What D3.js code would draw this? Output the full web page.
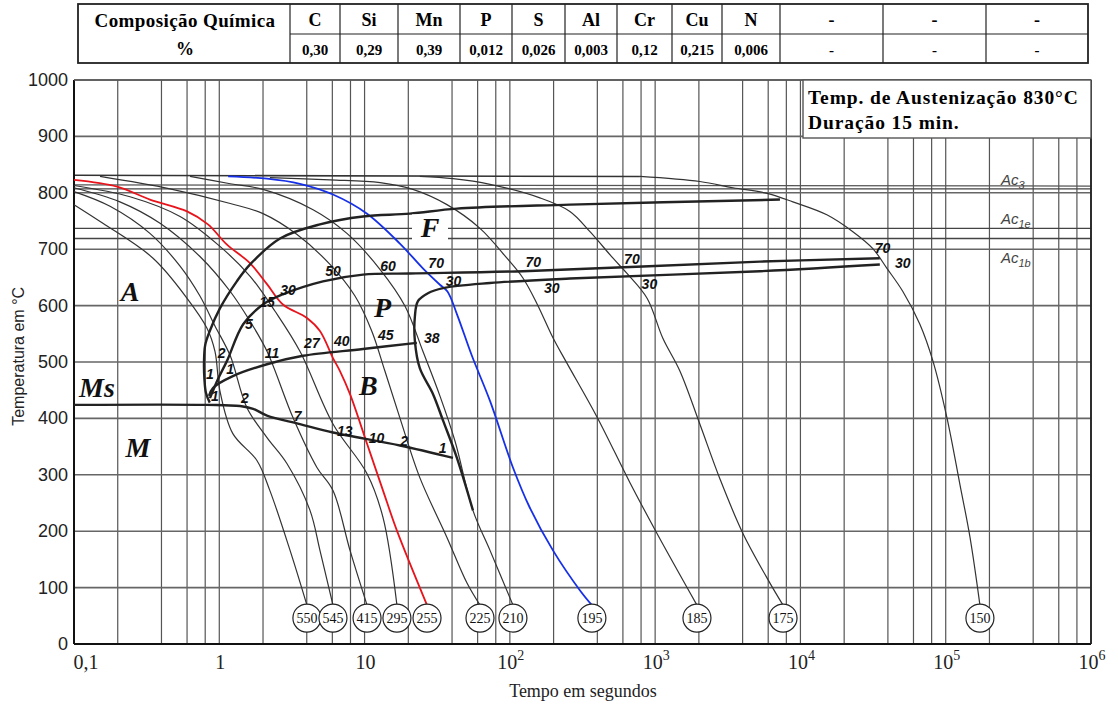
<!DOCTYPE html>
<html>
<head>
<meta charset="utf-8">
<script src="https://cdn.jsdelivr.net/npm/d3@7"></script>
<style>
  body { margin: 0; background: #fff; }
  svg { display: block; }
</style>
</head>
<body>
<script>
/* Dados */

const elements = ['C', 'Si', 'Mn', 'P', 'S', 'Al', 'Cr', 'Cu', 'N', '-', '-', '-'];
const contents = ['0,30', '0,29', '0,39', '0,012', '0,026', '0,003', '0,12', '0,215', '0,006', '-', '-', '-'];

const tempTicks = [0, 100, 200, 300, 400, 500, 600, 700, 800, 900, 1000];
const timeTicks = [0.1, 1, 10, 1e2, 1e3, 1e4, 1e5, 1e6];

// curvas de resfriamento [tempo s, temperatura °C]
const curve550 = [[0.1, 779], [0.158, 746], [0.35, 684], [0.6, 613], [0.823, 560], [0.934, 519], [1.01, 449], [1.24, 373], [1.82, 325], [2.23, 272], [3.07, 166], [4.01, 69]];
const curve545 = [[0.1, 802], [0.177, 776], [0.333, 728], [0.537, 670], [0.736, 617], [0.934, 564], [1.19, 511], [1.55, 419], [2.13, 366], [2.92, 320], [4.21, 237], [4.93, 166], [6.06, 69]];
const curve415 = [[0.1, 809], [0.207, 784], [0.391, 746], [0.736, 687], [1.19, 625], [1.63, 572], [2.13, 519], [3.22, 401], [4.7, 313], [6.06, 272], [7.94, 166], [10.4, 69]];
const curve295 = [[0.1, 813], [0.243, 793], [0.537, 758], [1.01, 705], [1.63, 652], [2.42, 590], [3.59, 519], [6.06, 390], [10.4, 302], [13.4, 224], [16.7, 69]];
const curve255 = [[0.1, 823], [0.198, 811], [0.333, 788], [0.6, 767], [0.836, 744], [1.13, 708], [1.63, 675], [2.13, 638], [2.74, 602], [4.01, 578], [4.93, 555], [6.06, 507], [6.77, 484], [7.94, 443], [10.4, 355], [13.4, 272], [16.7, 201], [26.9, 69]];
const curve225 = [[0.151, 829], [0.458, 807], [1.19, 781], [2.0, 763], [3.43, 726], [5.78, 673], [8.59, 617], [11.2, 555], [13.8, 484], [17.5, 401], [24.0, 295], [36.9, 189], [50.7, 108], [62.3, 69]];
const curve210 = [[0.629, 829], [1.19, 816], [2.0, 806], [4.42, 770], [7.56, 728], [12.8, 664], [19.0, 599], [25.2, 519], [33.0, 440], [41.9, 360], [55.7, 237], [73.0, 166], [105, 69]];
const curve195 = [[1.15, 829], [2.13, 825], [3.59, 816], [6.06, 797], [10.4, 763], [17.5, 710], [25.2, 666], [33.0, 637], [37.2, 625], [43.2, 585], [54.8, 511], [73.0, 431], [105, 313], [137, 242], [198, 166], [304, 95], [367, 69]];
const curve185 = [[2.23, 827], [5.78, 823], [12.8, 818], [21.5, 806], [36.9, 779], [62.3, 737], [95.5, 684], [123, 649], [154, 603], [198, 543], [247, 498], [397, 403], [671, 286], [1030, 196], [1940, 69]];
const curve175 = [[24.0, 829], [40.6, 825], [73, 815], [161, 791], [259, 767], [356, 731], [513, 684], [640, 657], [880, 613], [1130, 542], [1480, 484], [2030, 390], [2790, 293], [4020, 196], [6170, 108], [7590, 69]];
const curve150 = [[786, 829], [2030, 820], [3430, 809], [5880, 799], [8870, 784], [15200, 761], [22960, 731], [31500, 701], [39400, 666], [50700, 625], [66400, 567], [81600, 502], [102000, 401], [125000, 284], [147000, 189], [172000, 69]];

const hardness = [550, 545, 415, 295, 255, 225, 210, 195, 185, 175, 150];
const coolingCurves = [curve550, curve545, curve415, curve295, curve255, curve225, curve210, curve195, curve185, curve175, curve150];
const curveColors = ['#333', '#333', '#333', '#333', '#e8141c', '#333', '#333', '#1630e8', '#333', '#333', '#333'];

// linhas de transformação
const ferriteStart = [[0.86, 428], [0.81, 445], [0.79, 470], [0.785, 500], [0.8, 530], [0.86, 555], [1.01, 595], [1.32, 643], [1.63, 673], [2.62, 719], [4.93, 744], [9.75, 758], [20.5, 763], [43.2, 772], [259, 779], [7230, 788]];
const pearliteStart = [[0.863, 436], [0.98, 470], [1.13, 502], [1.46, 567], [2.0, 602], [2.74, 620], [5.17, 643], [9.75, 655], [20.5, 657], [123, 661], [5260, 678], [35200, 684]];
const pearliteFinish = [[55.7, 237], [43.2, 330], [34.7, 396], [29.6, 443], [24.0, 489], [22.2, 537], [22.2, 581], [23.3, 608], [27.3, 622], [34.7, 631], [73, 640], [259, 648], [5260, 661], [35200, 673]];
const bainiteStart = [[0.85, 440], [0.905, 454], [1.24, 475], [2.13, 496], [3.77, 511], [9.75, 523], [22.9, 534]];
const msLine = [[0.1, 424], [0.82, 424], [1.39, 422], [1.71, 417], [2.13, 405], [3.59, 390], [6.06, 375], [17.5, 352], [40.6, 330]];

// linhas de referência
const austenLine = [[0.1, 831], [786, 829]];
const acNames = ['3', '1e', '1b'];
const acTemps = [807, 737, 719];
const acLabelTemps = [822, 754, 684];
const extraLine = [[0.1, 814], [1e6, 812]];

// percentuais transformados [texto, tempo, temperatura]
const percents = [
  ['1', 0.863, 479], ['1', 1.19, 488], ['1', 0.934, 440], ['2', 1.04, 516], ['2', 1.5, 436],
  ['5', 1.6, 567], ['15', 2.13, 606], ['30', 2.97, 627], ['50', 6.06, 661], ['60', 14.5, 670],
  ['70', 31.1, 675], ['30', 41.0, 643], ['70', 145, 678], ['30', 194, 631], ['70', 692, 682],
  ['30', 913, 638], ['70', 36700, 703], ['30', 50700, 675],
  ['11', 2.31, 516], ['27', 4.34, 534], ['40', 6.96, 537], ['45', 14.0, 548], ['38', 29.0, 542],
  ['7', 3.46, 405], ['13', 7.3, 378], ['10', 12.1, 366], ['2', 18.7, 360], ['1', 34.5, 348]
];

// regiões
const regions = [['A', 0.243, 625], ['F', 28.2, 737], ['P', 13.3, 595], ['B', 10.6, 458], ['Ms', 0.144, 454], ['M', 0.275, 348]];

/* Desenho */

const width = 1118, height = 706;
const svg = d3.select('body').append('svg')
    .attr('width', width)
    .attr('height', height)
    .style('font-family', 'Liberation Serif, serif');

svg.append('rect').attr('width', width).attr('height', height).attr('fill', '#fff');

const x = d3.scaleLog().domain([0.1, 1e6]).range([74, 1091]);
const y = d3.scaleLinear().domain([0, 1000]).range([644, 80]);

const line = d3.line()
    .x(d => x(d[0]))
    .y(d => y(d[1]))
    .curve(d3.curveCatmullRom.alpha(0.5));

/* Tabela de composição */

const table = svg.append('g');
const colEdges = [290, 340, 398, 460, 512, 565, 617, 672, 722, 780, 883, 986, 1088];
const tTop = 4, tMid = 34, tBot = 63;

table.append('rect')
    .attr('x', 78).attr('y', tTop)
    .attr('width', 1088 - 78).attr('height', tBot - tTop)
    .attr('fill', 'none').attr('stroke', '#222').attr('stroke-width', 1.8);

table.append('line')
    .attr('x1', colEdges[0]).attr('x2', 1088)
    .attr('y1', tMid).attr('y2', tMid)
    .attr('stroke', '#222').attr('stroke-width', 1.2);

colEdges.slice(0, -1).forEach(e => {
    table.append('line')
        .attr('x1', e).attr('x2', e)
        .attr('y1', tTop).attr('y2', tBot)
        .attr('stroke', '#222').attr('stroke-width', 1.2);
});

table.append('text')
    .attr('x', 185).attr('y', 27)
    .attr('text-anchor', 'middle')
    .attr('font-weight', 'bold').attr('font-size', 19)
    .attr('letter-spacing', 0.4)
    .text('Composição Química');
table.append('text')
    .attr('x', 185).attr('y', 55)
    .attr('text-anchor', 'middle')
    .attr('font-weight', 'bold').attr('font-size', 18)
    .text('%');

elements.forEach((el, i) => {
    const cx = (colEdges[i] + colEdges[i + 1]) / 2;
    table.append('text')
        .attr('x', cx).attr('y', 26)
        .attr('text-anchor', 'middle')
        .attr('font-weight', 'bold').attr('font-size', 18)
        .text(el);
    table.append('text')
        .attr('x', cx).attr('y', 55)
        .attr('text-anchor', 'middle')
        .attr('font-weight', 'bold').attr('font-size', 15)
        .text(contents[i]);
});

/* Grade */

const grid = svg.append('g');

const vLines = [];
for (let k = -1; k < 6; k++) {
    [1, 2, 4, 6, 8].forEach(m => vLines.push(m * Math.pow(10, k)));
}
vLines.push(1e6);

grid.selectAll('.v').data(vLines).join('line')
    .attr('x1', d => x(d)).attr('x2', d => x(d))
    .attr('y1', y(1000)).attr('y2', y(0))
    .attr('stroke', '#555').attr('stroke-width', 1.2);

grid.selectAll('.h').data(tempTicks).join('line')
    .attr('x1', x(0.1)).attr('x2', x(1e6))
    .attr('y1', d => y(d)).attr('y2', d => y(d))
    .attr('stroke', '#666').attr('stroke-width', 1.6);

// linhas Ac
grid.selectAll('.ac').data(acTemps).join('line')
    .attr('x1', x(0.1)).attr('x2', x(1e6))
    .attr('y1', d => y(d)).attr('y2', d => y(d))
    .attr('stroke', '#444').attr('stroke-width', 1.4);

grid.append('path').datum(extraLine)
    .attr('d', d3.line().x(d => x(d[0])).y(d => y(d[1])))
    .attr('fill', 'none').attr('stroke', '#555').attr('stroke-width', 1.2);

grid.append('path').datum(austenLine)
    .attr('d', d3.line().x(d => x(d[0])).y(d => y(d[1])))
    .attr('fill', 'none').attr('stroke', '#333').attr('stroke-width', 1.6);

// eixos
svg.append('line')
    .attr('x1', x(0.1)).attr('x2', x(0.1)).attr('y1', y(1000)).attr('y2', y(0))
    .attr('stroke', '#111').attr('stroke-width', 2);
svg.append('line')
    .attr('x1', x(0.1)).attr('x2', x(1e6)).attr('y1', y(0)).attr('y2', y(0))
    .attr('stroke', '#111').attr('stroke-width', 2);
svg.append('line')
    .attr('x1', x(1e6)).attr('x2', x(1e6)).attr('y1', y(1000)).attr('y2', y(0))
    .attr('stroke', '#222').attr('stroke-width', 1.8);
svg.append('line')
    .attr('x1', x(0.1)).attr('x2', x(1e6)).attr('y1', y(1000)).attr('y2', y(1000))
    .attr('stroke', '#555').attr('stroke-width', 1.4);

/* Caixa de austenitização */

const box = svg.append('g');
box.append('rect')
    .attr('x', 803).attr('y', y(1000))
    .attr('width', x(1e6) - 803).attr('height', 58)
    .attr('fill', '#fff').attr('stroke', '#555').attr('stroke-width', 1.4);
box.append('text')
    .attr('x', 808).attr('y', 104)
    .attr('font-weight', 'bold').attr('font-size', 19.5)
    .attr('letter-spacing', 0.9)
    .text('Temp. de Austenização 830°C');
box.append('text')
    .attr('x', 808).attr('y', 129)
    .attr('font-weight', 'bold').attr('font-size', 19.5)
    .attr('letter-spacing', 0.9)
    .text('Duração 15 min.');

/* Rótulos dos eixos */

svg.append('g').selectAll('text').data(tempTicks).join('text')
    .attr('x', 68).attr('y', d => y(d) + 6)
    .attr('text-anchor', 'end')
    .attr('font-family', 'Liberation Sans, Arial, sans-serif')
    .attr('font-size', 18).attr('fill', '#222')
    .text(d => d);

const xt = svg.append('g').selectAll('text').data(timeTicks).join('text')
    .attr('x', d => x(d) + (d < 1 ? 12 : 1)).attr('y', 669)
    .attr('text-anchor', 'middle')
    .attr('font-size', 20).attr('fill', '#222');
xt.each(function (d) {
    const k = Math.round(Math.log10(d));
    const t = d3.select(this);
    if (k < 0) t.text('0,1');
    else if (k === 0) t.text('1');
    else if (k === 1) t.text('10');
    else {
        t.append('tspan').text('10');
        t.append('tspan').attr('dy', -9).attr('font-size', 14).text(k);
    }
});

svg.append('text')
    .attr('x', 583).attr('y', 697)
    .attr('text-anchor', 'middle')
    .attr('font-size', 18).attr('fill', '#222')
    .text('Tempo em segundos');

svg.append('text')
    .attr('transform', `translate(24, ${y(510)}) rotate(-90)`)
    .attr('text-anchor', 'middle')
    .attr('font-family', 'Liberation Sans, Arial, sans-serif')
    .attr('font-size', 16).attr('fill', '#222')
    .text('Temperatura em °C');

/* Curvas de resfriamento */

const curves = svg.append('g');
coolingCurves.forEach((c, i) => {
    curves.append('path').datum(c)
        .attr('d', line)
        .attr('fill', 'none')
        .attr('stroke', curveColors[i])
        .attr('stroke-width', curveColors[i] === '#333' ? 1.2 : 1.8);
});

/* Linhas de transformação */

const trans = svg.append('g').attr('fill', 'none').attr('stroke', '#222').attr('stroke-width', 2.4);
[ferriteStart, pearliteStart, pearliteFinish, bainiteStart, msLine].forEach(l => {
    trans.append('path').datum(l).attr('d', line);
});

/* Ac labels */

const acG = svg.append('g')
    .attr('font-family', 'Liberation Sans, Arial, sans-serif')
    .attr('font-style', 'italic').attr('font-size', 15).attr('fill', '#444');
acNames.forEach((n, i) => {
    const t = acG.append('text').attr('x', x(2.4e5)).attr('y', y(acLabelTemps[i]) + 5);
    t.append('tspan').text('Ac');
    t.append('tspan').attr('dy', 4).attr('font-size', 11).text(n);
});

/* Dureza */

const hv = svg.append('g');
coolingCurves.forEach((c, i) => {
    const last = c[c.length - 1];
    const g = hv.append('g').attr('transform', `translate(${x(last[0])}, ${y(46)})`);
    g.append('circle').attr('r', 14).attr('fill', '#fff').attr('stroke', '#222').attr('stroke-width', 1.2);
    g.append('text')
        .attr('text-anchor', 'middle').attr('y', 5)
        .attr('font-size', 14).attr('fill', '#111')
        .text(hardness[i]);
});

/* Percentuais */

svg.append('g').selectAll('text').data(percents).join('text')
    .attr('x', d => x(d[1])).attr('y', d => y(d[2]) + 5)
    .attr('text-anchor', 'middle')
    .attr('font-family', 'Liberation Sans, Arial, sans-serif')
    .attr('font-style', 'italic').attr('font-weight', 'bold')
    .attr('font-size', 14).attr('fill', '#111')
    .text(d => d[0]);

/* Regiões */

const reg = svg.append('g');
regions.forEach(r => {
    if (r[0] === 'F') {
        reg.append('rect')
            .attr('x', x(r[1]) - 18).attr('y', y(r[2]) - 14)
            .attr('width', 36).attr('height', 26).attr('fill', '#fff');
    }
    reg.append('text')
        .attr('x', x(r[1])).attr('y', y(r[2]) + 9)
        .attr('text-anchor', 'middle')
        .attr('font-style', 'italic').attr('font-weight', 'bold')
        .attr('font-size', 28).attr('fill', '#111')
        .text(r[0]);
});
</script>
</body>
</html>
